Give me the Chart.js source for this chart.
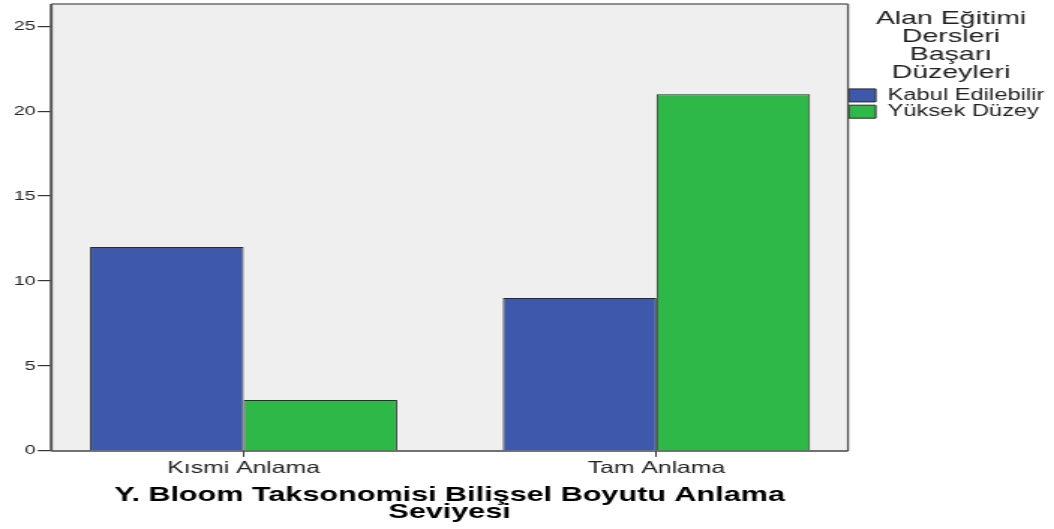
<!DOCTYPE html>
<html><head><meta charset="utf-8">
<script src="https://cdn.jsdelivr.net/npm/chart.js@4.4.1/dist/chart.umd.min.js"></script>
<style>
html,body{margin:0;padding:0;background:#fff;overflow:hidden}
#wrap{position:absolute;left:0;top:0;width:703px;height:529px;transform:scaleX(1.4993);transform-origin:0 0;}
</style></head><body>
<div id="wrap"><canvas id="c"></canvas></div>
<script>
const categories = ['Kısmi Anlama', 'Tam Anlama'];
const seriesNames = ['Kabul Edilebilir', 'Yüksek Düzey'];
const kabulEdilebilir = [12, 9];
const yuksekDuzey = [3, 21];
const yTicks = [0, 5, 10, 15, 20, 25];
const legendTitle = ['Alan Eğitimi', 'Dersleri', 'Başarı', 'Düzeyleri'];
const xTitle = ['Y. Bloom Taksonomisi Bilişsel Boyutu Anlama', 'Seviyesi'];

Chart.defaults.font.family = '"Liberation Sans", Arial, sans-serif';

const toPoints = vals => vals.map((v, i) => ({ x: i, y: v }));

const frame = {
  id: 'frame',
  beforeDraw(chart) {
    const { ctx, chartArea: a } = chart;
    ctx.save();
    ctx.fillStyle = '#efefef';
    ctx.fillRect(a.left, a.top, a.width, a.height);
    ctx.restore();
  },
  afterDatasetsDraw(chart) {
    const { ctx, chartArea: a } = chart;
    ctx.save();
    const line = (x1, y1, x2, y2, w, c) => {
      ctx.beginPath(); ctx.lineWidth = w; ctx.strokeStyle = c;
      ctx.moveTo(x1, y1); ctx.lineTo(x2, y2); ctx.stroke();
    };
    line(a.left, a.top, a.right, a.top, 1.5, '#6a6a6a');
    line(a.right, a.top, a.right, a.bottom, 1.3, '#555');
    line(a.left, a.bottom, a.right, a.bottom, 1.5, '#444');
    line(a.left, a.top, a.left, a.bottom, 2, '#555');
    ctx.restore();
  }
};

new Chart(document.getElementById('c'), {
  type: 'bar',
  data: {
    datasets: [
      { label: seriesNames[0], data: toPoints(kabulEdilebilir), backgroundColor: '#3E58AC', borderColor: '#2b2b2b', borderWidth: 1, borderSkipped: 'start' },
      { label: seriesNames[1], data: toPoints(yuksekDuzey), backgroundColor: '#2EB848', borderColor: '#2b2b2b', borderWidth: 1, borderSkipped: 'start' }
    ]
  },
  options: {
    responsive: true,
    maintainAspectRatio: false,
    animation: false,
    datasets: { bar: { categoryPercentage: 0.744, barPercentage: 1 } },
    layout: { padding: { left: 7.7, top: 3, right: 0, bottom: 8.5 } },
    plugins: {
      tooltip: { enabled: false },
      legend: {
        position: 'right',
        align: 'start',
        maxWidth: 137.4,
        labels: {
          boxWidth: 18, boxHeight: 13, padding: 0.5,
          color: '#222',
          font: { size: 15.8 }
        },
        title: {
          display: true,
          text: legendTitle,
          position: 'center',
          color: '#222',
          font: { size: 19, lineHeight: 18 / 19 },
          padding: { top: 6.5, bottom: 59.5 }
        }
      }
    },
    scales: {
      x: {
        type: 'linear',
        offset: false,
        min: -0.466,
        max: 1.464,
        afterBuildTicks: s => { s.ticks = categories.map((c, i) => ({ value: i })); },
        ticks: {
          callback: v => categories[v],
          autoSkip: false, maxRotation: 0,
          color: '#222', padding: 1.5,
          font: { size: 16.5 }
        },
        grid: { display: true, offset: false, drawOnChartArea: false, drawTicks: true, tickLength: 6, color: '#333' },
        border: { display: false },
        title: {
          display: true,
          text: xTitle,
          color: '#000',
          font: { size: 20.4, weight: 'bold', lineHeight: 17 / 20.4 },
          padding: { top: 6.8, bottom: 0 }
        }
      },
      y: {
        min: 0,
        max: 26.3,
        afterBuildTicks: s => { s.ticks = yTicks.map(v => ({ value: v })); },
        ticks: { color: '#222', padding: 1.5, font: { size: 13, lineHeight: 0.4 } },
        grid: { display: true, drawOnChartArea: false, drawTicks: true, tickLength: 9, color: '#333', lineWidth: 1.2 },
        border: { display: false }
      }
    }
  },
  plugins: [frame]
});
</script>
</body></html>
